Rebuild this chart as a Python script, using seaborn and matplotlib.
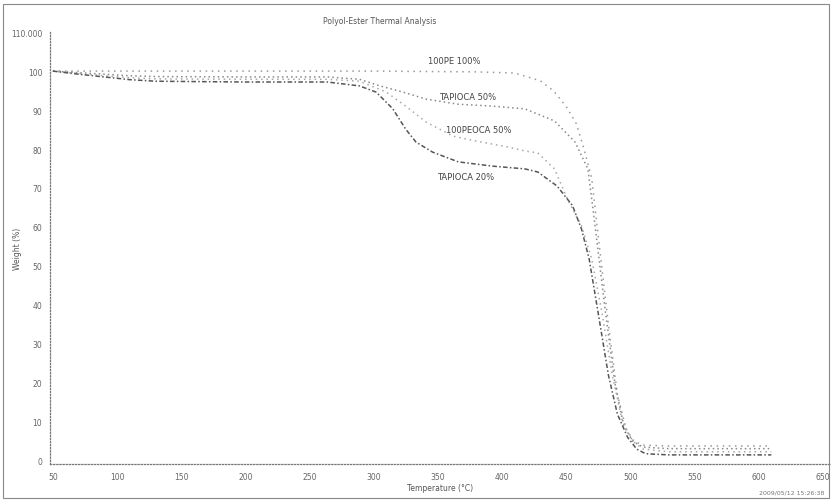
import numpy as np
import pandas as pd
import matplotlib
matplotlib.use("Agg")
import matplotlib.pyplot as plt
import seaborn as sns
from matplotlib.patches import Rectangle

# TGA curves
temp_a = [50, 200, 300, 380, 410, 430, 440, 450, 458, 464, 470, 476, 483, 490, 497, 503, 510, 530, 610]
wt_a = [100, 100, 100, 99.8, 99.5, 97.5, 95, 91, 86.5, 80, 72.5, 55, 35, 17, 8, 5, 4, 3.8, 3.8]

temp_b = [50, 70, 90, 110, 130, 200, 264, 289, 305, 323, 341, 366, 393, 418, 441, 457, 467, 472, 480, 488, 495, 502, 510, 530, 610]
wt_b = [100, 99.6, 99.2, 98.8, 98.6, 98.5, 98.5, 97.9, 96.2, 94.6, 92.8, 91.5, 91, 90.3, 87.2, 81.8, 74.9, 62, 40, 20, 9, 5, 3.5, 3.1, 3.1]

temp_c = [50, 70, 90, 110, 130, 200, 264, 289, 310, 325, 341, 362, 379, 405, 418, 428, 441, 451, 462, 470, 478, 486, 494, 502, 510, 530, 610]
wt_c = [100, 99.4, 98.8, 98.3, 98, 97.9, 97.9, 97.4, 94.6, 91, 86.9, 83.3, 82.1, 80.5, 79.5, 79, 74.9, 67.2, 60.3, 51.8, 38, 22, 10, 5, 3, 2.3, 2.3]

temp_d = [50, 70, 90, 110, 130, 200, 264, 289, 302, 315, 325, 333, 346, 366, 393, 418, 428, 443, 455, 462, 468, 475, 483, 490, 498, 505, 512, 530, 610]
wt_d = [100, 99.2, 98.5, 97.8, 97.4, 97.2, 97.2, 96.2, 94.6, 90.3, 85.1, 81.8, 79.2, 76.7, 75.6, 74.9, 74.1, 70.5, 65.5, 59.5, 51.8, 38, 22, 12, 6, 3, 1.8, 1.5, 1.5]

series_names = ["100PE 100%", "TAPIOCA 50%", "100PEOCA 50%", "TAPIOCA 20%"]
label_pos = [(363, 102.6), (373, 93.6), (382, 85.0), (372, 73.0)]

x_ticks = [50, 100, 150, 200, 250, 300, 350, 400, 450, 500, 550, 600, 650]
y_ticks = [0, 10, 20, 30, 40, 50, 60, 70, 80, 90, 100, 110]
y_tick_labels = ["0", "10", "20", "30", "40", "50", "60", "70", "80", "90", "100", "110.000"]

frames = []
for name, t, w in zip(series_names, [temp_a, temp_b, temp_c, temp_d], [wt_a, wt_b, wt_c, wt_d]):
    frames.append(pd.DataFrame({"Temperature": t, "Weight": w, "Sample": name}))
df = pd.concat(frames, ignore_index=True)

sns.set_style("white")
plt.rcParams["font.family"] = ["DejaVu Sans"]

fig = plt.figure(figsize=(8.32, 5.02), dpi=100)
ax = fig.add_axes([0.060, 0.074, 0.938, 0.860])

styles = {
    "100PE 100%": dict(color="#9a9a9a", linestyle=(0, (1, 3)), linewidth=1.1),
    "TAPIOCA 50%": dict(color="#8a8a8a", linestyle=(0, (1, 2)), linewidth=1.1),
    "100PEOCA 50%": dict(color="#a8a8a8", linestyle=(0, (1, 2.5)), linewidth=1.1),
    "TAPIOCA 20%": dict(color="#555555", linestyle=(0, (3, 1.5, 1, 1.5)), linewidth=1.1),
}
for name in series_names:
    sub = df[df["Sample"] == name]
    sns.lineplot(data=sub, x="Temperature", y="Weight", ax=ax, legend=False,
                 estimator=None, sort=False, **styles[name])

for name, (tx, wy) in zip(series_names, label_pos):
    ax.text(tx, wy, name, fontsize=6, color="#444444", ha="center", va="center")

ax.set_xlim(47.7, 656)
ax.set_ylim(-0.8, 110)
ax.set_xticks(x_ticks)
ax.set_yticks(y_ticks)
ax.set_yticklabels(y_tick_labels)
ax.tick_params(axis="both", labelsize=5.5, colors="#666666", length=2, width=0.6)
ax.tick_params(axis="x", length=0, pad=6)
ax.set_xlabel("Temperature (°C)", fontsize=5.5, color="#555555", labelpad=1)
ax.set_ylabel("Weight (%)", fontsize=5.5, color="#555555")
ax.yaxis.set_label_coords(-0.036, 0.5)

for side in ["top", "right"]:
    ax.spines[side].set_visible(False)
for side in ["left", "bottom"]:
    ax.spines[side].set_linestyle((0, (1, 1.5)))
    ax.spines[side].set_color("#777777")
    ax.spines[side].set_linewidth(0.9)

fig.text(380 / 832, 1 - 22 / 502, "Polyol-Ester Thermal Analysis", fontsize=5.5,
         color="#555555", ha="center", va="center")
fig.text(824 / 832, 1 - 493 / 502, "2009/05/12 15:26:38", fontsize=4.5,
         color="#777777", ha="right", va="center")

fig.patches.append(Rectangle((3 / 832, 3 / 502), 826 / 832, 494 / 502, transform=fig.transFigure,
                             fill=False, edgecolor="#888888", linewidth=0.8))

fig.savefig("out.png", dpi=100, facecolor="white")
